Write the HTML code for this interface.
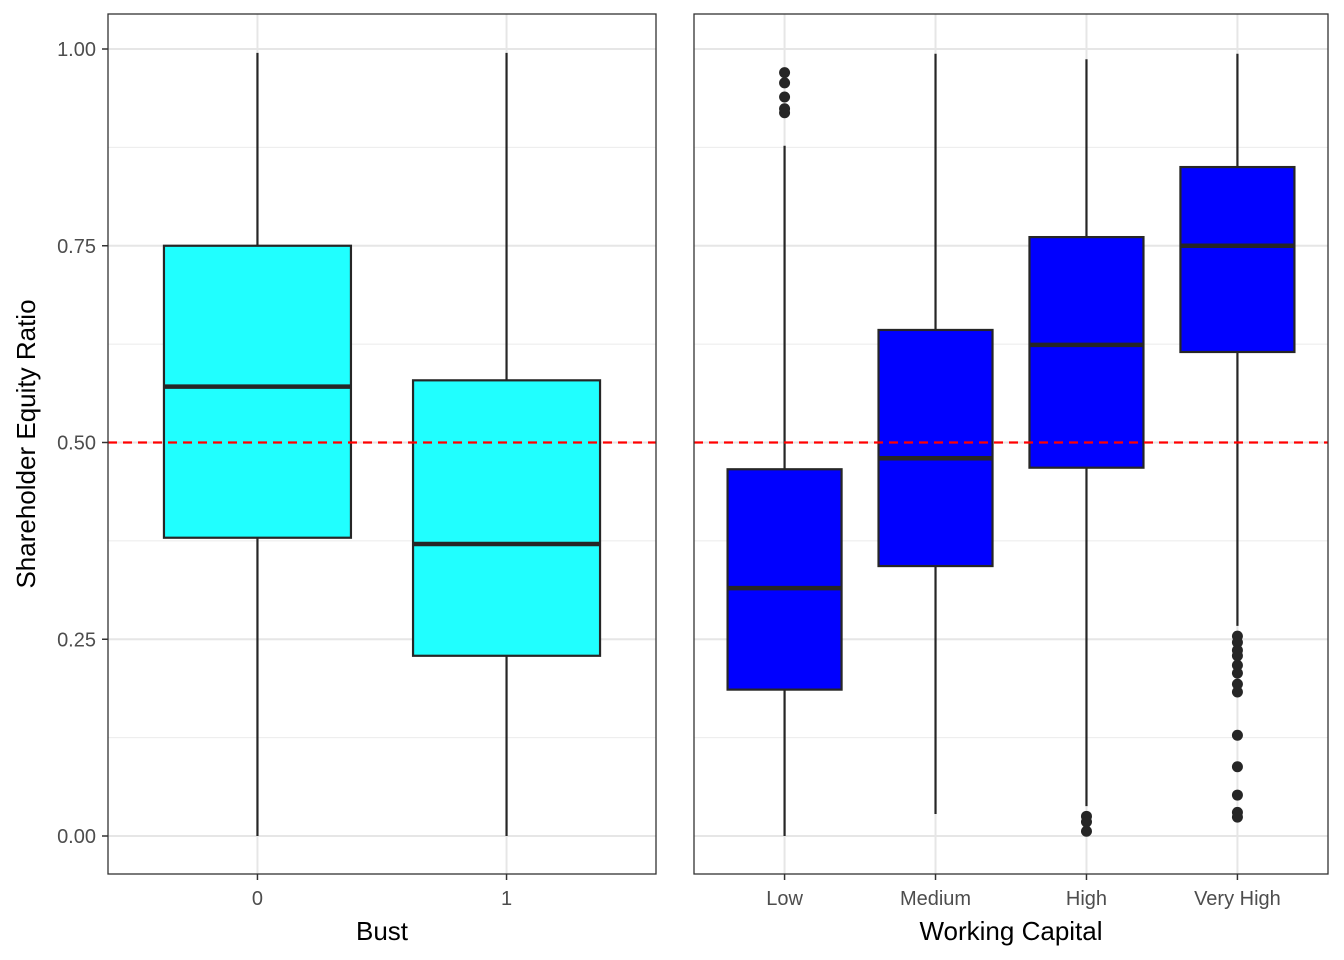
<!DOCTYPE html>
<html><head><meta charset="utf-8"><style>body{margin:0;background:#fff}svg{display:block;font-family:"Liberation Sans",Arial,sans-serif}</style></head>
<body>
<svg id="c" width="1344" height="960"></svg>
<script>
const leftCats=["0","1"];
const leftStats=[[0,0.379,0.571,0.750,0.995],[0,0.229,0.371,0.579,0.995]];
const rightCats=["Low","Medium","High","Very High"];
const rightStats=[[0,0.186,0.315,0.466,0.877],[0.028,0.343,0.480,0.643,0.994],[0.038,0.468,0.624,0.761,0.987],[0.267,0.615,0.750,0.850,0.994]];
const rightOutliers=[[0.970,0.957,0.939,0.924,0.919],[],[0.025,0.018,0.006],[0.254,0.246,0.236,0.229,0.217,0.207,0.193,0.183,0.128,0.088,0.052,0.030,0.024]];
const yTicks=[0,0.25,0.5,0.75,1];
const yTickLabels=["0.00","0.25","0.50","0.75","1.00"];
const refLine=0.5;
const NS="http://www.w3.org/2000/svg",svg=document.getElementById('c');
function el(t,a,p){const e=document.createElementNS(NS,t);for(const k in a)e.setAttribute(k,a[k]);(p||svg).appendChild(e);return e;}
const y=v=>836-v*787;
function panel(x0,x1,cats,stats,outs,fill,bw,xTitle,name){
  const g=el('g',{});
  const n=cats.length,step=(x1-x0)/(n+0.2);const cx=i=>x0+step*(i+0.6);
  for(let v=0.125;v<1;v+=0.25)el('line',{x1:x0,x2:x1,y1:y(v),y2:y(v),stroke:'#ebebeb','stroke-width':1},g);
  yTicks.forEach(v=>el('line',{x1:x0,x2:x1,y1:y(v),y2:y(v),stroke:'#e6e6e6','stroke-width':2},g));
  cats.forEach((c,i)=>{el('line',{x1:cx(i),x2:cx(i),y1:14,y2:874,stroke:'#e6e6e6','stroke-width':2},g);
    const t=el('text',{x:cx(i),y:905,'text-anchor':'middle','font-size':20,fill:'#4d4d4d'},g);t.textContent=c;
    
    el('line',{x1:cx(i),x2:cx(i),y1:874,y2:880,stroke:'#333','stroke-width':1.5},g);});
  stats.forEach((s,i)=>{const b=el('g',{},g);
    el('line',{x1:cx(i),x2:cx(i),y1:y(s[0]),y2:y(s[4]),stroke:'#262626','stroke-width':2.2},b);
    el('rect',{x:cx(i)-bw/2,y:y(s[3]),width:bw,height:y(s[1])-y(s[3]),fill:fill,stroke:'#262626','stroke-width':2.2},b);
    el('line',{x1:cx(i)-bw/2,x2:cx(i)+bw/2,y1:y(s[2]),y2:y(s[2]),stroke:'#262626','stroke-width':4.5},b);
    (outs[i]||[]).forEach(o=>el('circle',{cx:cx(i),cy:y(o),r:5.5,fill:'#262626'},b));});
  const r=el('line',{x1:x0,x2:x1,y1:y(refLine),y2:y(refLine),stroke:'#ff0000','stroke-width':2.2,'stroke-dasharray':'9,6'},g);
  
  el('rect',{x:x0,y:14,width:x1-x0,height:860,fill:'none',stroke:'#333','stroke-width':1.3},g);
  const t=el('text',{x:(x0+x1)/2,y:940,'text-anchor':'middle','font-size':26,fill:'#000'},g);t.textContent=xTitle;
  
}
panel(108,656,leftCats,leftStats,[],'#20ffff',187,'Bust','panel-bust');
panel(694,1328,rightCats,rightStats,rightOutliers,'#0000ff',114,'Working Capital','panel-working-capital');
yTicks.forEach((v,i)=>{el('line',{x1:102,x2:108,y1:y(v),y2:y(v),stroke:'#333','stroke-width':1.5});
  const t=el('text',{x:96,y:y(v)+7,'text-anchor':'end','font-size':20,fill:'#4d4d4d'});t.textContent=yTickLabels[i];
  });
const yt=el('text',{x:0,y:0,'text-anchor':'middle','font-size':26,fill:'#000',transform:'translate(35,444) rotate(-90)'});
yt.textContent='Shareholder Equity Ratio';


</script>
</body></html>
